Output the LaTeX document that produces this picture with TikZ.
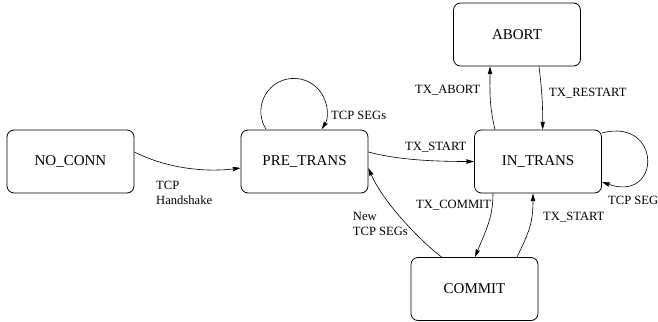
\documentclass[tikz,border=0pt]{standalone}
\usepackage{fontspec}
\setmainfont{LiberationSerif}[Extension=.ttf, UprightFont=*-Regular, BoldFont=*-Bold]
\usetikzlibrary{arrows.meta,calc}
\tikzset{
  state/.style={draw, rounded corners=7pt, line width=0.8pt, minimum width=127pt, minimum height=63pt, inner sep=0pt, font=\fontsize{15}{18}\selectfont},
  edge/.style={line width=0.6pt, -{Stealth[length=8pt,width=4.5pt,inset=1pt]}},
  lbl/.style={anchor=west, inner sep=0pt, align=left, font=\fontsize{12.6}{15}\selectfont}
}
\begin{document}
\begin{tikzpicture}[x=1pt,y=-1pt]
\useasboundingbox (0,0) rectangle (658,321);
\node[state] (nc) at (70.5,161.5) {NO\_CONN};
\node[state] (pre) at (304.5,161.5) {PRE\_TRANS};
\node[state] (in) at (538,161.5) {IN\_TRANS};
\node[state] (abort) at (517,34.5) {ABORT};
\node[state] (commit) at (474.5,289) {COMMIT};

\draw[edge] ([yshift=9.5pt]nc.east) .. controls +(36pt,-18pt) and +(-31pt,-4pt) .. ([yshift=-6.5pt]pre.west);
\draw[edge] ([xshift=-38.5pt,yshift=0.5pt]pre.north) arc[start angle=212.4, end angle=-32.7, radius=33pt];
\draw[edge] ([yshift=9.5pt]pre.east) .. controls +(30pt,-8pt) and +(-40pt,0pt) .. (in.west);
\draw[edge] ([xshift=-32.8pt]commit.north) .. controls +(-20pt,15pt) and +(15pt,-35pt) .. ([yshift=-6.5pt]pre.east);
\draw[edge] ([xshift=-43pt]in.north) .. controls +(-6pt,25pt) and +(0pt,-25pt) .. ([xshift=-27pt]abort.south);
\draw[edge] ([xshift=22pt]abort.south) .. controls +(3pt,-25pt) and +(0pt,25pt) .. ([xshift=4.7pt]in.north);
\draw[edge] ([yshift=28.5pt]in.east) .. controls +(60pt,16pt) and +(60pt,-21pt) .. ([yshift=-20.5pt]in.east);
\draw[edge] ([xshift=-45pt]in.south) .. controls +(0pt,-25pt) and +(10pt,25pt) .. ([xshift=0.5pt]commit.north);
\draw[edge] ([xshift=42.5pt]commit.north) .. controls +(12pt,25pt) and +(0pt,-30pt) .. ([xshift=-5pt]in.south);

\node[lbl] (l1) at (156,192.5) {TCP\\Handshake};
\node[lbl] (l2) at (331,115) {TCP SEGs};
\node[lbl] (l3) at (405,147) {TX\_START};
\node[lbl] (l4) at (352.7,224) {New\\TCP SEGs};
\node[lbl] (l5) at (415,90) {TX\_ABORT};
\node[lbl] (l6) at (549,93) {TX\_RESTART};
\node[lbl] (l7) at (608,200) {TCP SEG};
\node[lbl] (l8) at (416,205) {TX\_COMMIT};
\node[lbl] (l9) at (543,217) {TX\_START};
\end{tikzpicture}
\end{document}
